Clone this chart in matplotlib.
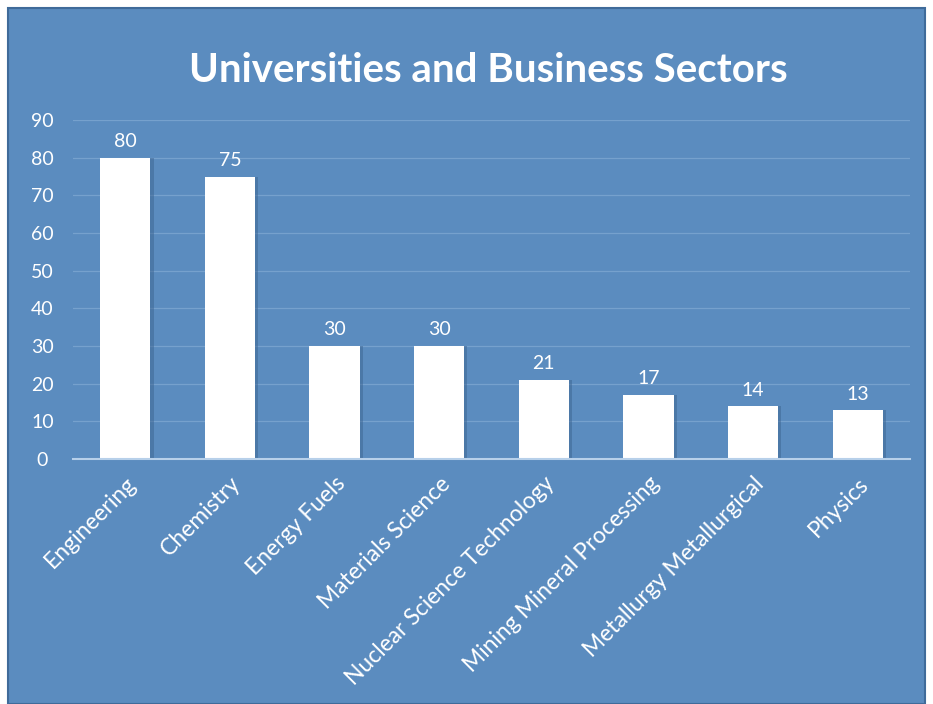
import matplotlib
matplotlib.use("Agg")
import matplotlib.pyplot as plt
from matplotlib.patches import Rectangle

categories = ["Engineering", "Chemistry", "Energy Fuels", "Materials Science",
              "Nuclear Science Technology", "Mining Mineral Processing",
              "Metallurgy Metallurgical", "Physics"]
values = [80, 75, 30, 30, 21, 17, 14, 13]
yticks = [0, 10, 20, 30, 40, 50, 60, 70, 80, 90]

bg = "#5b8cbf"
plt.rcParams["font.family"] = ["Lato", "DejaVu Sans"]

fig = plt.figure(figsize=(9.33, 7.04), dpi=100)
fig.patch.set_facecolor("white")
W, H = 933, 704
panel = Rectangle((8 / W, 0), (925 - 8) / W, (704 - 8) / H, transform=fig.transFigure,
                  facecolor=bg, edgecolor="#3f6b9a", linewidth=1.5, zorder=-10)
fig.patches.append(panel)

ax = fig.add_axes([73 / W, 245 / H, (910 - 73) / W, (584 - 245) / H])
ax.set_facecolor("none")
ax.set_zorder(1)
x = list(range(len(categories)))

# soft shadow behind each bar
ax.bar([i + 0.03 for i in x], values, width=0.48, color="#3d6591", alpha=0.5, zorder=2)
bars = ax.bar(x, values, width=0.48, color="white", zorder=3)
for b, v in zip(bars, values):
    ax.text(b.get_x() + b.get_width() / 2, v + 2.0, f"{v}", ha="center", va="bottom",
            color="white", fontsize=14, zorder=4)

ax.set_ylim(0, 90)
ax.set_xlim(-0.5, len(categories) - 0.5)
ax.set_yticks(yticks)
ax.yaxis.grid(True, color="#76a1cd", linewidth=0.9)
ax.set_axisbelow(True)
for s in ["top", "right", "left"]:
    ax.spines[s].set_visible(False)
ax.spines["bottom"].set_color("#b7d0ea")
ax.spines["bottom"].set_linewidth(1.5)
ax.spines["bottom"].set_zorder(5)
ax.tick_params(axis="both", length=0, colors="white", labelsize=14)
ax.tick_params(axis="y", pad=22)
ax.set_xticks(x)
ax.set_xticklabels(categories, rotation=45, ha="right", rotation_mode="anchor",
                   fontsize=16.5, color="white")
ax.tick_params(axis="x", pad=10)
for lbl in ax.get_yticklabels():
    lbl.set_horizontalalignment("center")

fig.text(488 / W, 1 - 70 / H, "Universities and Business Sectors", ha="center", va="center",
         color="white", fontsize=29, fontweight="bold")

fig.savefig("out.png", dpi=100, facecolor=fig.get_facecolor())
